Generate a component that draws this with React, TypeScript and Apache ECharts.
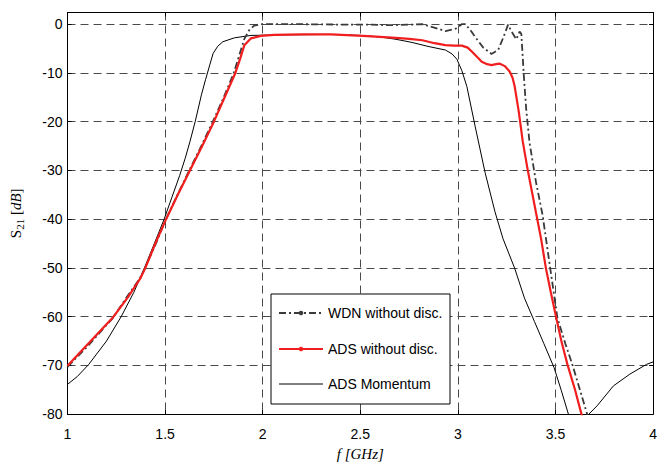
import React, { useEffect, useRef } from 'react';
import * as echarts from 'echarts';

// [frequency GHz, S21 dB]
const wdnPoints: [number, number][] = [
  [1.0, -70.3], [1.1, -66.2], [1.23, -60.4], [1.31, -55.6], [1.37, -52.2], [1.395, -50.2],
  [1.45, -45.3], [1.502, -40.2], [1.56, -35.3], [1.62, -30.3], [1.683, -25.2], [1.742, -20.2],
  [1.797, -15.3], [1.85, -10.2], [1.875, -7], [1.906, -3], [1.931, -1.2], [1.956, -0.3], [1.99, 0],
  [2.2, 0], [2.45, -0.1], [2.55, -0.1], [2.65, -0.2], [2.75, -0.1], [2.818, 0], [2.87, -0.6],
  [2.936, -1.4], [2.99, -0.9], [3.02, 0], [3.037, 0], [3.06, -1.0], [3.088, -2.6], [3.13, -4.8],
  [3.172, -6.1], [3.206, -5.3], [3.235, -2.5], [3.257, -0.1], [3.275, -1.5], [3.299, -3.1],
  [3.316, -1.5], [3.325, -2], [3.338, -10.7], [3.35, -17.5], [3.367, -24.3], [3.4, -32.4],
  [3.434, -39.2], [3.473, -50.1], [3.51, -60.3], [3.55, -65.5], [3.586, -69.8], [3.625, -75],
  [3.662, -80], [3.68, -84]
];

const adsPoints: [number, number][] = [
  [1.0, -70.1], [1.1, -65.8], [1.23, -60.3], [1.31, -56], [1.374, -52.1], [1.399, -50],
  [1.45, -45], [1.505, -40], [1.565, -35], [1.627, -30], [1.69, -25], [1.75, -20],
  [1.805, -15], [1.86, -10], [1.885, -7], [1.906, -4.3], [1.94, -2.9], [1.99, -2.4],
  [2.058, -2.2], [2.2, -2.1], [2.35, -2.1], [2.514, -2.4], [2.6, -2.6], [2.683, -2.8],
  [2.75, -3.0], [2.818, -3.3], [2.88, -3.9], [2.936, -4.3], [2.98, -4.4], [3.02, -4.4],
  [3.05, -4.8], [3.071, -5.6], [3.1, -6.8], [3.122, -7.7], [3.15, -8.2], [3.172, -8.4],
  [3.195, -8.2], [3.215, -8.1], [3.24, -8.6], [3.265, -9.7], [3.28, -11], [3.291, -12.8],
  [3.312, -18], [3.332, -24], [3.358, -30], [3.392, -37], [3.426, -44], [3.451, -50.1],
  [3.476, -55], [3.502, -59.9], [3.53, -65], [3.561, -69.8], [3.6, -75], [3.633, -80], [3.66, -85]
];

const momentumPoints: [number, number][] = [
  [1.0, -73.9], [1.05, -72.3], [1.109, -69.8], [1.2, -65], [1.275, -60], [1.34, -55],
  [1.394, -50], [1.445, -45], [1.495, -40], [1.535, -35.5], [1.575, -31], [1.603, -27.5],
  [1.628, -24], [1.654, -20], [1.686, -14.5], [1.707, -11.4], [1.73, -8.2], [1.746, -6.0],
  [1.77, -4.5], [1.796, -3.6], [1.855, -2.8], [1.94, -2.3], [2.092, -2.2], [2.344, -2.1],
  [2.5, -2.3], [2.6, -2.6], [2.683, -3.1], [2.76, -3.7], [2.852, -4.6], [2.936, -5.3],
  [2.97, -6.1], [2.995, -7.2], [3.02, -9.5], [3.046, -12.8], [3.088, -20.9], [3.139, -30.4],
  [3.19, -38.5], [3.231, -44], [3.291, -50.1], [3.341, -56.2], [3.392, -61], [3.44, -65.5],
  [3.493, -70.5], [3.53, -75.2], [3.566, -80], [3.62, -90], [3.671, -80], [3.713, -78.3],
  [3.797, -74.2], [3.881, -71.8], [3.966, -69.8], [4.0, -69.3]
];

const legendLabels = ['WDN without disc.', 'ADS without disc.', 'ADS Momentum'];

const SANS = 'Liberation Sans, Arial, sans-serif';
const SERIF = 'Liberation Serif, Times New Roman, serif';
const WDN_COLOR = '#3a3a3a';
const RED = '#f01e1e';
const WDN_DASH = [7, 3, 2, 3];

export default function App() {
  const ref = useRef<HTMLDivElement>(null);
  useEffect(() => {
    const chart = echarts.init(ref.current!, null, { renderer: 'svg' });
    const gridLine = { show: true, lineStyle: { color: '#4a4a4a', width: 1, type: [8, 5] as any } };
    const axisLine = { show: true, onZero: false, lineStyle: { color: '#000', width: 1 } };
    const tick = { show: true, inside: true, length: 4, lineStyle: { color: '#000' } };
    const legendX0 = 279, legendX1 = 323, legendTextX = 328;
    const rowsY = [313, 349, 384];
    const graphics: any[] = [
      { type: 'rect', z: 100, shape: { x: 271, y: 294, width: 179, height: 110 },
        style: { fill: '#fff', stroke: '#000', lineWidth: 1 } },
      { type: 'line', z: 101, shape: { x1: legendX0, y1: rowsY[0], x2: legendX1, y2: rowsY[0] },
        style: { stroke: WDN_COLOR, lineWidth: 1.8, lineDash: WDN_DASH } },
      { type: 'circle', z: 102, shape: { cx: 301, cy: rowsY[0], r: 2.3 }, style: { fill: WDN_COLOR } },
      { type: 'line', z: 101, shape: { x1: legendX0, y1: rowsY[1], x2: legendX1, y2: rowsY[1] },
        style: { stroke: RED, lineWidth: 2.2 } },
      { type: 'circle', z: 102, shape: { cx: 301, cy: rowsY[1], r: 2.3 }, style: { fill: RED } },
      { type: 'line', z: 101, shape: { x1: legendX0, y1: rowsY[2], x2: legendX1, y2: rowsY[2] },
        style: { stroke: '#000', lineWidth: 1 } },
    ];
    legendLabels.forEach((t, i) => {
      graphics.push({ type: 'text', z: 103, x: legendTextX, y: rowsY[i],
        style: { text: t, fill: '#000', font: `14px ${SANS}`, textAlign: 'left', textVerticalAlign: 'middle' } });
    });
    chart.setOption({
      animation: false,
      backgroundColor: '#fff',
      grid: { left: 64.5, right: 3.5, top: 12.5, bottom: 49.5, show: false },
      xAxis: [
        { type: 'value', min: 1, max: 4, interval: 0.5, position: 'bottom',
          axisLine, axisTick: tick, splitLine: gridLine,
          axisLabel: { color: '#000', fontSize: 14, fontFamily: SANS, margin: 13,
            formatter: (v: number) => String(v) },
          name: 'f [GHz]', nameLocation: 'middle', nameGap: 26,
          nameTextStyle: { color: '#000', fontSize: 15, fontFamily: SERIF, fontStyle: 'italic' } },
        { type: 'value', min: 1, max: 4, interval: 0.5, position: 'top',
          axisLine, axisTick: tick, splitLine: { show: false }, axisLabel: { show: false } }
      ],
      yAxis: [
        { type: 'value', min: -80, max: 2.4, interval: 10, position: 'left',
          axisLine, axisTick: tick, splitLine: gridLine,
          axisLabel: { color: '#000', fontSize: 14, fontFamily: SANS, margin: 5,
            formatter: (v: number) => (Math.abs(v % 10) < 1e-6 ? String(v) : '') },
          name: '{n|S}{sub|21}{n| [}{i|dB}{n|]}', nameLocation: 'middle', nameGap: 42,
          nameTextStyle: { color: '#000', fontSize: 15, fontFamily: SERIF,
            rich: {
              n: { fontSize: 15, fontFamily: SERIF, color: '#000', lineHeight: 20, verticalAlign: 'middle' },
              i: { fontSize: 15, fontFamily: SERIF, fontStyle: 'italic', color: '#000', lineHeight: 20, verticalAlign: 'middle' },
              sub: { fontSize: 11, fontFamily: SERIF, color: '#000', lineHeight: 20, verticalAlign: 'bottom' }
            } } },
        { type: 'value', min: -80, max: 2.4, interval: 10, position: 'right',
          axisLine, axisTick: tick, splitLine: { show: false }, axisLabel: { show: false } }
      ],
      series: [
        { name: legendLabels[2], type: 'line', data: momentumPoints, symbol: 'none', showSymbol: false,
          clip: true, lineStyle: { color: '#000', width: 1 }, z: 2 },
        { name: legendLabels[0], type: 'line', data: wdnPoints, symbol: 'none', showSymbol: false,
          clip: true, lineStyle: { color: WDN_COLOR, width: 1.8, type: WDN_DASH as any }, z: 3 },
        { name: legendLabels[1], type: 'line', data: adsPoints, symbol: 'none', showSymbol: false,
          clip: true, lineStyle: { color: RED, width: 2.2 }, z: 4 }
      ],
      graphic: graphics
    });
    return () => chart.dispose();
  }, []);
  return <div ref={ref} style={{ position: 'fixed', left: 0, top: 0, width: 660, height: 466 }} />;
}
